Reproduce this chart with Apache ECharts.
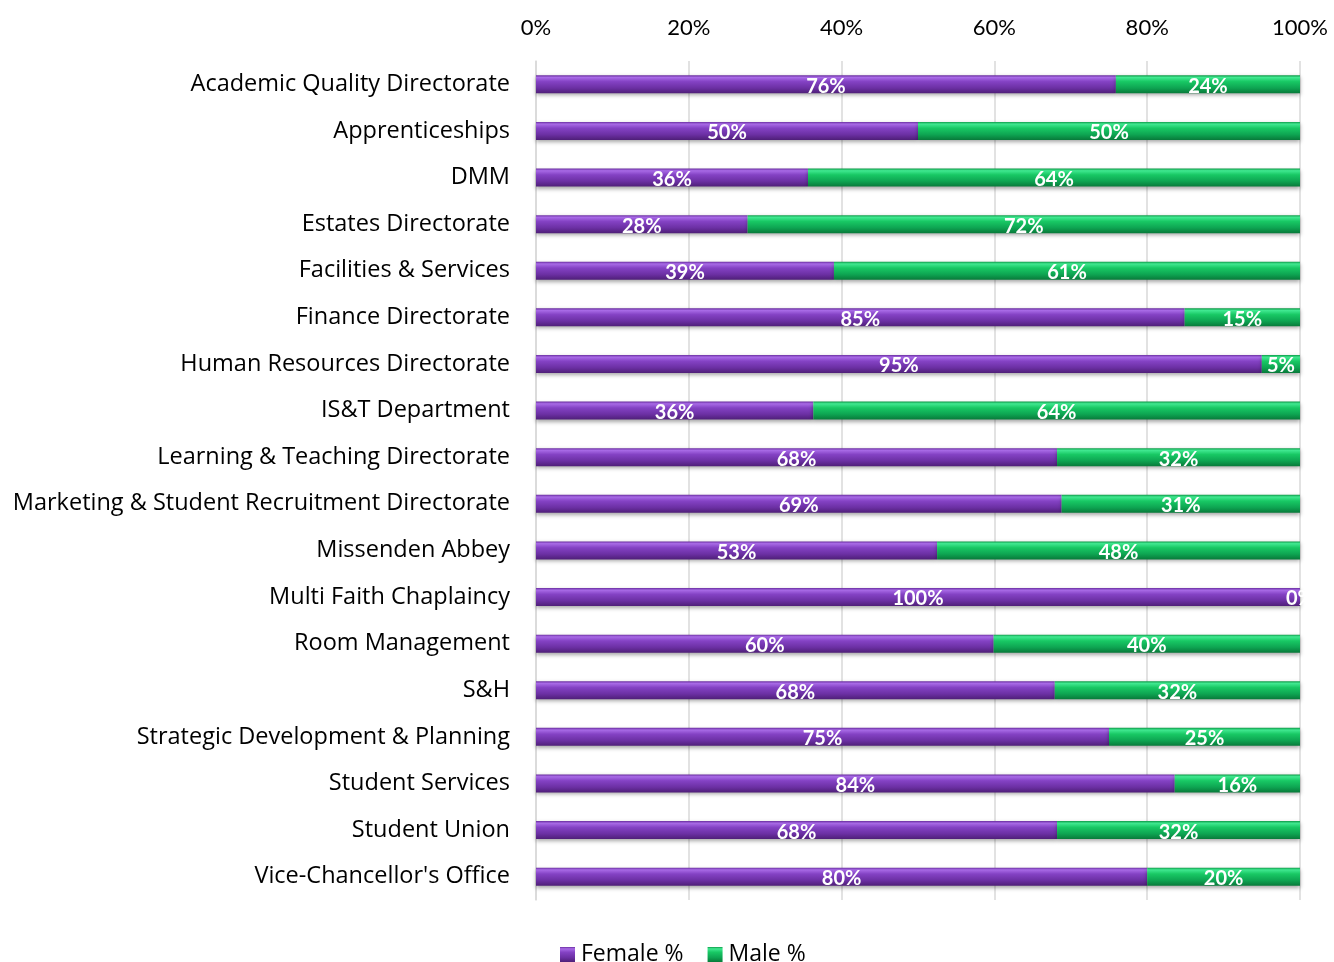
<!DOCTYPE html>
<html><head><meta charset="utf-8">
<script src="https://cdn.jsdelivr.net/npm/echarts@6/dist/echarts.min.js"></script>
<style>html,body{margin:0;padding:0;background:#fff}#c{width:1334px;height:962px}</style>
</head><body><div id="c"></div>
<script>
var categories = ["Academic Quality Directorate","Apprenticeships","DMM","Estates Directorate","Facilities & Services","Finance Directorate","Human Resources Directorate","IS&T Department","Learning & Teaching Directorate","Marketing & Student Recruitment Directorate","Missenden Abbey","Multi Faith Chaplaincy","Room Management","S&H","Strategic Development & Planning","Student Services","Student Union","Vice-Chancellor's Office"];
var femalePct = [75.9,50.0,35.6,27.7,39.0,84.9,95.0,36.3,68.2,68.8,52.5,100,59.9,67.9,75.0,83.6,68.2,80.0];
var malePct = [24.1,50.0,64.4,72.3,61.0,15.1,5.0,63.7,31.8,31.2,47.5,0,40.1,32.1,25.0,16.4,31.8,20.0];
var xTicks = [0,20,40,60,80,100];

var chart = echarts.init(document.getElementById('c'));
var FONT = 'Lato';
var CAT_FONT = 'Open Sans';
function grad(stops){
  return new echarts.graphic.LinearGradient(0,0,0,1,stops.map(function(s){return {offset:s[0],color:s[1]};}));
}
var purple = grad([[0,'#6a2ea0'],[0.12,'#a86ae6'],[0.35,'#8442c4'],[0.7,'#6c30a4'],[1,'#4f1f78']]);
var green = grad([[0,'#0e9a48'],[0.12,'#40e890'],[0.35,'#18c864'],[0.7,'#0ea552'],[1,'#087a3a']]);
var labelCfg = {show:true, position:'inside', color:'#fff', fontWeight:'bold', fontSize:20, fontFamily:FONT, offset:[0,2],
  formatter:function(p){return Math.round(p.value)+'%';}};
chart.setOption({
  animation:false,
  grid:{left:536,right:34,top:61,bottom:62},
  legend:{top:938,left:555,itemWidth:15,itemHeight:15,itemGap:24,
    textStyle:{fontSize:23,fontFamily:CAT_FONT,color:'#000',padding:[0,0,0,1]},
    data:[{name:'Female %',icon:'rect'},{name:'Male %',icon:'rect'}]},
  xAxis:{type:'value',position:'top',min:0,max:100,interval:20,
    axisLabel:{formatter:function(v){return xTicks.indexOf(v)>=0? v+'%':'';},fontSize:22,fontFamily:FONT,color:'#000',margin:22},
    axisLine:{show:false},axisTick:{show:false},
    splitLine:{show:true,lineStyle:{color:'#d9d9d9',width:1.5}}},
  yAxis:{type:'category',inverse:true,data:categories,
    axisLabel:{fontSize:23.5,fontFamily:CAT_FONT,color:'#000',margin:26},
    axisLine:{show:true,lineStyle:{color:'#d9d9d9',width:1.5}},axisTick:{show:false}},
  series:[
    {name:'Female %',type:'bar',stack:'t',barWidth:18,data:femalePct,label:labelCfg,
     itemStyle:{color:purple,shadowColor:'rgba(0,0,0,0.35)',shadowBlur:4,shadowOffsetY:2}},
    {name:'Male %',type:'bar',stack:'t',barWidth:18,data:malePct,label:labelCfg,
     itemStyle:{color:green,shadowColor:'rgba(0,0,0,0.35)',shadowBlur:4,shadowOffsetY:2}}
  ]
});
</script></body></html>
